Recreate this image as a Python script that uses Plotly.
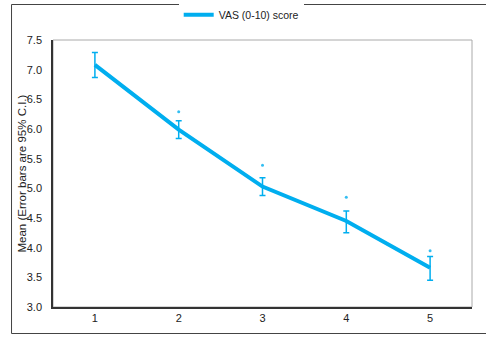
import plotly.graph_objects as go

categories = [1, 2, 3, 4, 5]
mean_vals = [7.08, 5.99, 5.03, 4.45, 3.66]
ci_upper = [7.29, 6.14, 5.18, 4.62, 3.85]
ci_lower = [6.87, 5.84, 4.88, 4.25, 3.45]
extra_dots = [None, 6.29, 5.39, 4.85, 3.95]
y_ticks = [3.0, 3.5, 4.0, 4.5, 5.0, 5.5, 6.0, 6.5, 7.0, 7.5]
y_title = "Mean (Error bars are 95% C.I.)"

blue = "#00AEEF"
err_plus = [u - m for u, m in zip(ci_upper, mean_vals)]
err_minus = [m - l for m, l in zip(mean_vals, ci_lower)]

fig = go.Figure()
fig.add_trace(go.Scatter(
    x=categories, y=mean_vals, mode="lines", name="VAS (0-10) score",
    line=dict(color=blue, width=4),
    error_y=dict(type="data", symmetric=False, array=err_plus, arrayminus=err_minus,
                 color=blue, thickness=1.5, width=3),
))
fig.add_trace(go.Scatter(
    x=categories, y=extra_dots, mode="markers", showlegend=False,
    marker=dict(color=blue, size=3, opacity=0.8),
))

fig.update_layout(
    width=486, height=340,
    margin=dict(l=53, r=14, t=40, b=33, autoexpand=False),
    paper_bgcolor="white", plot_bgcolor="white",
    font=dict(family="Liberation Sans, Arial", size=11, color="#222"),
    showlegend=True,
    legend=dict(orientation="h", x=0.30, xanchor="left", y=1.04, yanchor="bottom",
                font=dict(size=10.5), tracegroupgap=0),
    xaxis=dict(type="linear", range=[0.5, 5.5], tickvals=categories,
               ticktext=[str(c) for c in categories], showgrid=False, zeroline=False,
               showline=True, linecolor="#333", linewidth=1.5, ticks="", automargin=False,
               tickfont=dict(size=11, color="#222")),
    yaxis=dict(range=[3.0, 7.5], tickvals=y_ticks, ticktext=[f"{v:.1f}" for v in y_ticks],
               showgrid=False, zeroline=False, showline=True, linecolor="#333", linewidth=1.5,
               ticks="", ticklabelstandoff=7, automargin=False,
               tickfont=dict(size=11, color="#222")),
    annotations=[
        dict(text=y_title, xref="paper", yref="paper", x=0, y=0.5, xshift=-32,
             xanchor="center", yanchor="middle", textangle=-90, showarrow=False,
             font=dict(size=11.5, color="#222")),
    ],
    shapes=[
        dict(type="rect", xref="paper", yref="paper", x0=0, x1=1, y0=0, y1=1,
             line=dict(color="#aaaaaa", width=1), layer="below"),
        dict(type="line", xref="paper", yref="paper", x0=-0.0990, x1=1.2, y0=1.1330, y1=1.1330,
             line=dict(color="#444", width=1.2)),
        dict(type="line", xref="paper", yref="paper", x0=-0.0990, x1=1.2, y0=-0.0993, y1=-0.0993,
             line=dict(color="#444", width=1.2)),
        dict(type="rect", xref="paper", yref="paper", x0=-0.1002, x1=-0.0978, y0=-0.0993, y1=1.1330,
             line=dict(width=0), fillcolor="#444", layer="above"),
    ],
)

fig.write_html("out.html", config={"displayModeBar": False},
               post_script="document.body.style.margin='0';")
